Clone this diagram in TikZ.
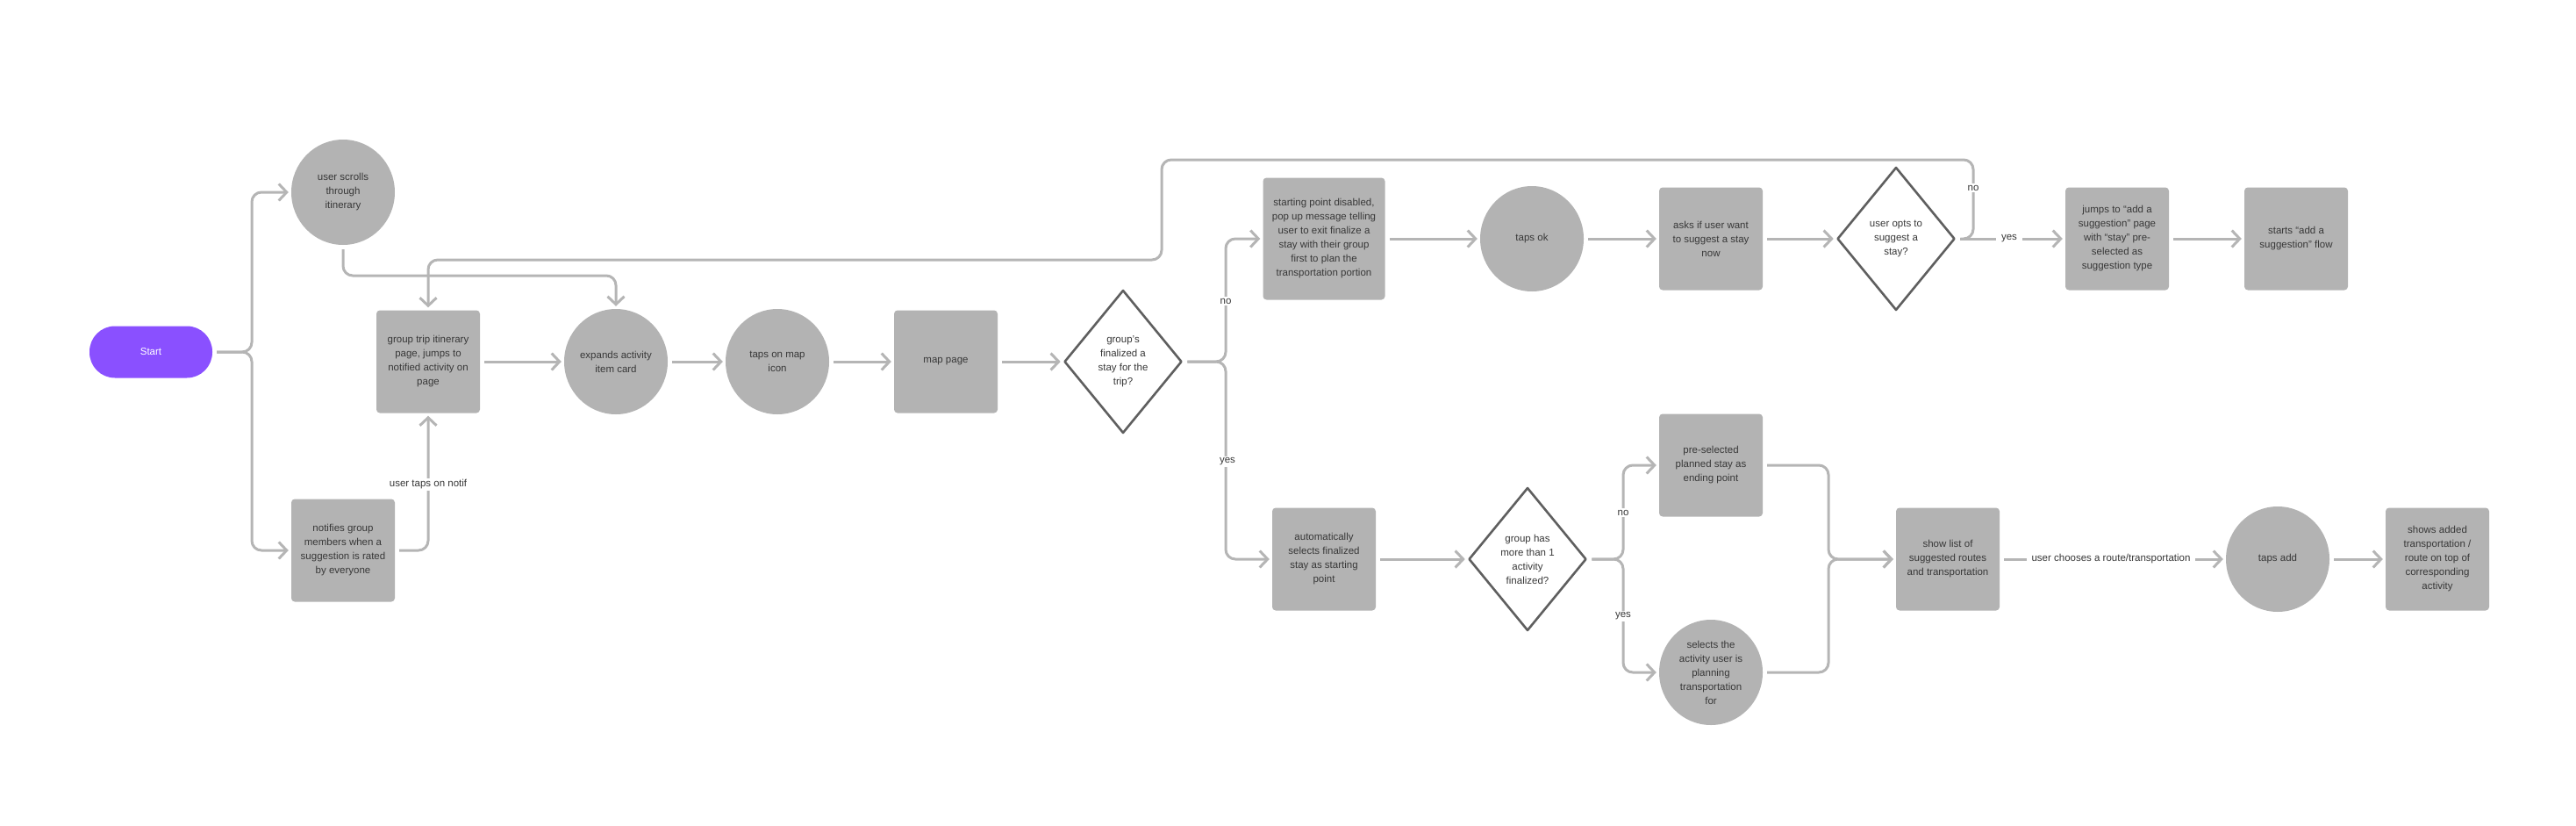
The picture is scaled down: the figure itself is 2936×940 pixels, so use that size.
\documentclass[tikz,border=0pt]{standalone}
\usepackage{fontspec}
\setmainfont{Liberation Sans}
\usetikzlibrary{shapes.geometric,arrows.meta,calc}
\definecolor{boxgray}{HTML}{B3B3B3}
\definecolor{linegray}{HTML}{B5B5B5}
\definecolor{diagray}{HTML}{5F5F5F}
\definecolor{txtgray}{HTML}{383838}
\definecolor{startpurple}{HTML}{8A50FF}
\begin{document}
\begin{tikzpicture}[x=1pt,y=-1pt,
  font=\fontsize{11.5}{16}\selectfont, text=txtgray,
  every node/.style={align=center},
  box/.style={rectangle, rounded corners=4pt, fill=boxgray, minimum width=118pt, minimum height=117pt, inner sep=0pt},
  oval/.style={ellipse, fill=boxgray, minimum width=118pt, minimum height=120pt, inner sep=0pt},
  dec/.style={diamond, draw=diagray, line width=2.6pt, line join=round, fill=white, minimum width=134pt, minimum height=163pt, inner sep=0pt},
  pill/.style={rectangle, rounded corners=29pt, fill=startpurple, text=white, minimum width=140pt, minimum height=59pt, inner sep=0pt},
  conn/.style={draw=linegray, line width=3pt, rounded corners=11pt, -{Straight Barb[length=9pt,width=19pt]}, shorten <=5pt, shorten >=3pt},
  lbl/.style={fill=white, inner xsep=6pt, inner ysep=2pt},
]
\useasboundingbox (0,0) rectangle (2936,940);

% nodes
\node[pill] (start) at (172,401) {Start};
\node[oval] (scroll) at (391,219) {user scrolls\\through\\itinerary};
\node[box] (group) at (488,412) {group trip itinerary\\page, jumps to\\notified activity on\\page};
\node[box] (notif) at (391,627) {notifies group\\members when a\\suggestion is rated\\by everyone};
\node[oval] (expand) at (702,412) {expands activity\\item card};
\node[oval] (tapmap) at (886,412) {taps on map\\icon};
\node[box] (map) at (1078,412) {map page};
\node[dec] (fin) at (1280,412) {group’s\\finalized a\\stay for the\\trip?};
\node[box, minimum width=139pt, minimum height=139pt] (dis) at (1509,272) {starting point disabled,\\pop up message telling\\user to exit finalize a\\stay with their group\\first to plan the\\transportation portion};
\node[oval] (ok) at (1746,272) {taps ok};
\node[box] (ask) at (1950,272) {asks if user want\\to suggest a stay\\now};
\node[dec] (opt) at (2161,272) {user opts to\\suggest a\\stay?};
\node[box] (jump) at (2413,272) {jumps to “add a\\suggestion” page\\with “stay” pre-\\selected as\\suggestion type};
\node[box] (startsug) at (2617,272) {starts “add a\\suggestion” flow};
\node[box] (auto) at (1509,637) {automatically\\selects finalized\\stay as starting\\point};
\node[dec] (more) at (1741,637) {group has\\more than 1\\activity\\finalized?};
\node[box] (pre) at (1950,530) {pre-selected\\planned stay as\\ending point};
\node[oval] (sel) at (1950,766) {selects the\\activity user is\\planning\\transportation\\for};
\node[box] (show) at (2220,637) {show list of\\suggested routes\\and transportation};
\node[oval] (add) at (2596,637) {taps add};
\node[box] (shown) at (2778,637) {shows added\\transportation /\\route on top of\\corresponding\\activity};

% junction coordinates
\coordinate (b1) at (287,401);
\coordinate (cs) at (702,314);
\coordinate (l1) at (2249,182);
\coordinate (l2) at (1324,296);
\coordinate (b2) at (1397,412);
\coordinate (b3) at (1850,637);
\coordinate (b4) at (2084,637);

% connectors
\draw[conn] (start.east) -- (b1) |- (scroll.west);
\draw[conn] (start.east) -- (b1) |- (notif.west);
\draw[conn] (scroll.south) |- (cs) -- (expand.north);
\draw[conn] (opt.east) -| (l1) -| (l2) -| (group.north);
\draw[conn] (notif.east) -| (group.south);
\draw[conn] (group.east) -- (expand.west);
\draw[conn] (expand.east) -- (tapmap.west);
\draw[conn] (tapmap.east) -- (map.west);
\draw[conn] (map.east) -- (fin.west);
\draw[conn] (fin.east) -- (b2) |- (dis.west);
\draw[conn] (fin.east) -- (b2) |- (auto.west);
\draw[conn] (dis.east) -- (ok.west);
\draw[conn] (ok.east) -- (ask.west);
\draw[conn] (ask.east) -- (opt.west);
\draw[conn] (opt.east) -- (jump.west);
\draw[conn] (jump.east) -- (startsug.west);
\draw[conn] (auto.east) -- (more.west);
\draw[conn] (more.east) -- (b3) |- (pre.west);
\draw[conn] (more.east) -- (b3) |- (sel.west);
\draw[conn] (pre.east) -| (b4) -- (show.west);
\draw[conn] (sel.east) -| (b4) -- (show.west);
\draw[conn] (show.east) -- (add.west);
\draw[conn] (add.east) -- (shown.west);

% connector labels
\node[lbl] (tapnotif) at (488,552) {user taps on notif};
\node[lbl] (no1) at (1397,343) {no};
\node[lbl] (yes1) at (1399,526) {yes};
\node[lbl] (no2) at (2249,214) {no};
\node[lbl] (yes2) at (2290,272) {yes};
\node[lbl] (no3) at (1850,584) {no};
\node[lbl] (yes3) at (1850,702) {yes};
\node[lbl] (route) at (2406,637) {user chooses a route/transportation};
\end{tikzpicture}
\end{document}
